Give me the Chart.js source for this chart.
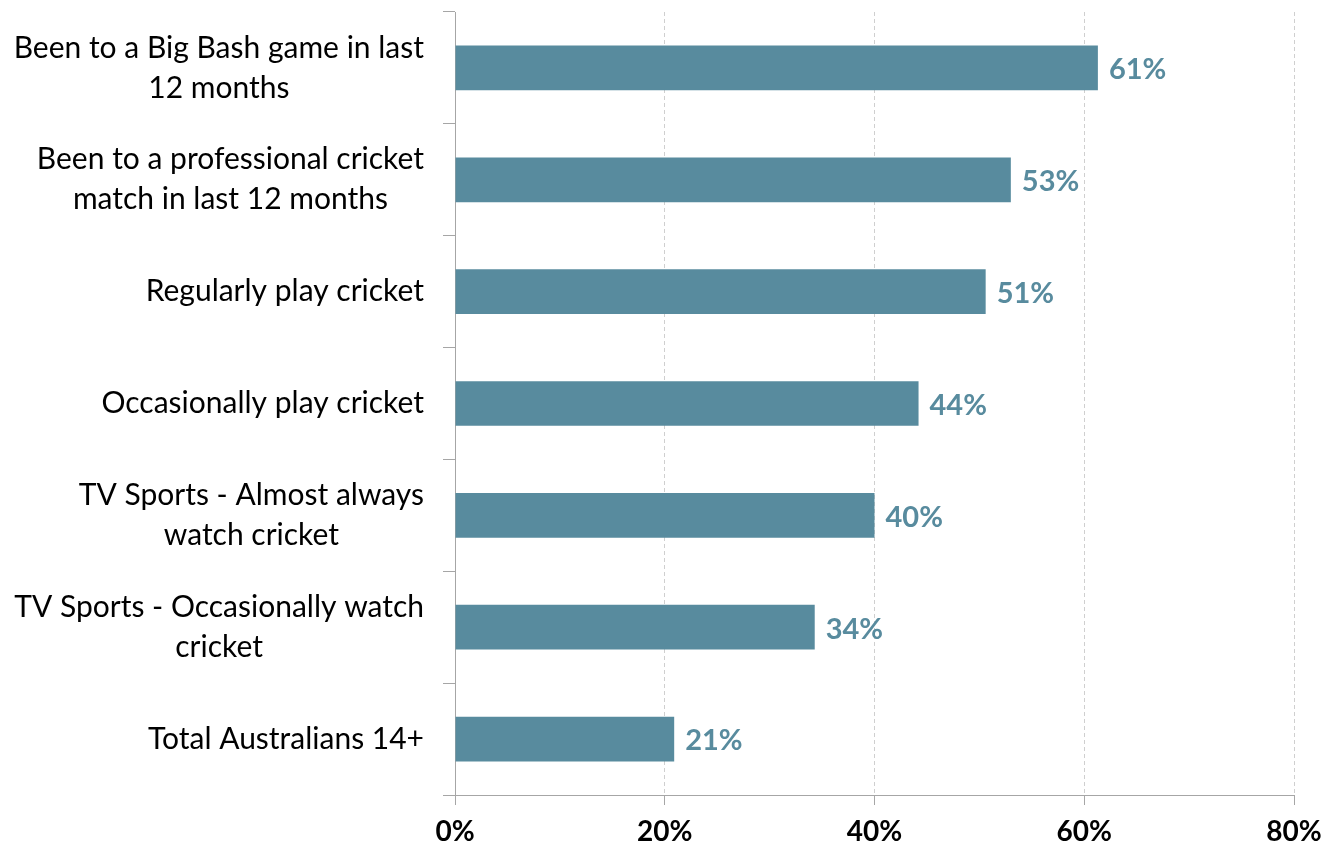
<!DOCTYPE html>
<html>
<head>
<meta charset="utf-8">
<script src="https://cdn.jsdelivr.net/npm/chart.js@4"></script>
<style>
    body { margin: 0; background: #fff; }
    #wrap { width: 1338px; height: 851px; position: relative; }
</style>
</head>
<body>
<div id="wrap"><canvas id="mine"></canvas></div>
<script>
    // categories, top to bottom
    let categories = [
        ["Been to a Big Bash game in last", "12 months"],
        ["Been to a professional cricket", "match in last 12 months"],
        ["Regularly play cricket"],
        ["Occasionally play cricket"],
        ["TV Sports - Almost always", "watch cricket"],
        ["TV Sports - Occasionally watch", "cricket"],
        ["Total Australians 14+"]
    ];
    let values = [61.3, 53.0, 50.6, 44.2, 40.0, 34.3, 20.9];
    let xTicks = [0, 20, 40, 60, 80];

    let barColor = "#588b9e";
    let font = "Lato, 'Open Sans', sans-serif";

    // category labels: each block right aligned, lines centred inside it
    let catLabels = {
        id: "catLabels",
        afterDraw(chart) {
            let ctx = chart.ctx;
            let y = chart.scales.y;
            ctx.save();
            ctx.font = "30px " + font;
            ctx.fillStyle = "#000";
            ctx.textBaseline = "middle";
            ctx.textAlign = "center";
            categories.forEach((lines, i) => {
                let cy = y.getPixelForTick(i);
                let w = Math.max(...lines.map(l => ctx.measureText(l).width));
                let cx = 424 - w / 2;
                let lh = 40;
                lines.forEach((l, j) => {
                    ctx.fillText(l, cx, cy + (j - (lines.length - 1) / 2) * lh);
                });
            });
            ctx.restore();
        }
    };

    let valueLabels = {
        id: "valueLabels",
        afterDatasetsDraw(chart) {
            let ctx = chart.ctx;
            let meta = chart.getDatasetMeta(0);
            ctx.save();
            ctx.font = "bold 29px " + font;
            ctx.fillStyle = barColor;
            ctx.textBaseline = "middle";
            ctx.textAlign = "left";
            meta.data.forEach((bar, i) => {
                ctx.fillText(Math.round(values[i]) + "%", bar.x + 11, bar.y + 2);
            });
            ctx.restore();
        }
    };

    new Chart(document.getElementById("mine").getContext("2d"), {
        type: "bar",
        data: {
            labels: categories.map(c => c.join(" ")),
            datasets: [{
                data: values,
                backgroundColor: barColor,
                barPercentage: 0.4,
                categoryPercentage: 1
            }]
        },
        options: {
            indexAxis: "y",
            responsive: true,
            maintainAspectRatio: false,
            animation: false,
            layout: { padding: { top: 12, right: 44, left: 0, bottom: 0 } },
            plugins: { legend: { display: false }, tooltip: { enabled: false } },
            scales: {
                x: {
                    min: 0,
                    max: 80,
                    afterBuildTicks(scale) {
                        scale.ticks = xTicks.map(v => ({ value: v }));
                    },
                    afterFit(scale) { scale.height = 56; },
                    ticks: {
                        callback: v => v + "%",
                        color: "#000",
                        font: { family: font, size: 28, weight: "bold" },
                        padding: 10,
                        maxRotation: 0
                    },
                    grid: {
                        color: "#cfcfcf",
                        tickColor: "#a6a6a6",
                        tickLength: 10,
                        tickBorderDash: []
                    },
                    border: { color: "#a6a6a6", dash: [4, 3] }
                },
                y: {
                    afterFit(scale) { scale.width = 455; },
                    ticks: { display: false },
                    grid: {
                        offset: true,
                        drawOnChartArea: false,
                        tickColor: "#a6a6a6",
                        tickLength: 12
                    },
                    border: { color: "#a6a6a6" }
                }
            }
        },
        plugins: [catLabels, valueLabels]
    });
</script>
</body>
</html>
